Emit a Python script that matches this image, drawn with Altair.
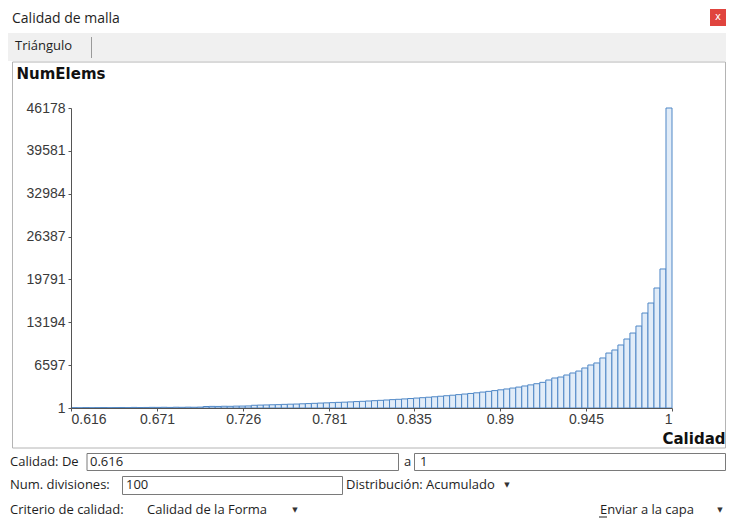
import altair as alt
import pandas as pd

# ---------------- data ----------------
q_min = 0.616
q_max = 1.0
n_div = 100

counts = [45, 30, 60, 40, 55, 70, 50, 65, 80, 60, 90, 75, 85, 100, 95, 110, 90, 120, 105, 130, 115, 140,
          230, 250, 240, 270, 260, 290, 300, 320,
          420, 450, 470, 500, 520, 560, 590, 610, 650, 680,
          720, 760, 790, 830, 870, 900, 940, 990, 1030, 1080,
          1130, 1180, 1230, 1290, 1340, 1400, 1460, 1530, 1590, 1660,
          1730, 1810, 1890, 1970, 2060, 2150, 2240, 2340, 2450, 2560,
          2680, 2800, 2930, 3070, 3220, 3390, 3560, 3740,
          3950, 4310, 4620, 4770, 5080, 5390, 5690, 6160, 6620, 6930,
          7700, 8460, 8930, 9700, 10620, 11540, 12620, 14620, 16160, 18470,
          21400, 46178]

x_ticks = [0.616, 0.671, 0.726, 0.781, 0.835, 0.89, 0.945, 1.0]
y_ticks = [1, 6597, 13194, 19791, 26387, 32984, 39581, 46178]

step = (q_max - q_min) / n_div
df = pd.DataFrame({
    "lo": [q_min + i * step for i in range(n_div)],
    "hi": [q_min + (i + 1) * step for i in range(n_div)],
    "n": counts,
})

# ---------------- layout (page pixels) ----------------
PLOT_X, PLOT_Y = 71, 108          # page position of plot origin
W, H = 601, 300
TOTAL_W, TOTAL_H = 718, 513
PAD_L, PAD_T = PLOT_X - 8, PLOT_Y - 8
PAD_R = TOTAL_W - PAD_L - W
PAD_B = TOTAL_H - PAD_T - H

UI_FONT = "Open Sans"
one = alt.Data(values=[{}])


def px(x):
    return x - PLOT_X


def py(y):
    return y - PLOT_Y


def txt(s, x, y, size=13, weight="normal", align="left", font=UI_FONT, color="#1e1e1e"):
    return alt.Chart(one).mark_text(
        text=s, align=align, baseline="middle", font=font, fontSize=size,
        fontWeight=weight, color=color
    ).encode(x=alt.value(px(x)), y=alt.value(py(y)))


def box(x1, y1, x2, y2, fill, stroke=None):
    kw = dict(fill=fill)
    if stroke:
        kw.update(stroke=stroke, strokeWidth=1)
    else:
        kw.update(strokeWidth=0)
    return alt.Chart(one).mark_rect(**kw).encode(
        x=alt.value(px(x1)), x2=alt.value(px(x2)),
        y=alt.value(py(y1)), y2=alt.value(py(y2)))


def vline(x, y1, y2, color="#9a9a9a"):
    return alt.Chart(one).mark_rule(color=color, strokeWidth=1).encode(
        x=alt.value(px(x)), y=alt.value(py(y1)), y2=alt.value(py(y2)))


def hline(x1, x2, y, color="#1e1e1e"):
    return alt.Chart(one).mark_rule(color=color, strokeWidth=1).encode(
        x=alt.value(px(x1)), x2=alt.value(px(x2)), y=alt.value(py(y)))


chrome_back = [
    box(8, 33, 726, 61, "#f0f0f0"),
    box(12.5, 62, 725.5, 448, "#ffffff", "#b4b4b4"),
    box(87, 453.5, 398.5, 470.5, "#ffffff", "#7a7a7a"),
    box(414.5, 453.5, 725.5, 470.5, "#ffffff", "#7a7a7a"),
    box(122.5, 476.5, 342.5, 494.5, "#ffffff", "#7a7a7a"),
    box(710, 9, 726, 26, "#e0443e"),
]

bars = alt.Chart(df).mark_rect(
    fill="#e1ecf8", stroke="#4f87c6", strokeWidth=1
).encode(
    x=alt.X("lo:Q", scale=alt.Scale(domain=[q_min, q_max], nice=False, zero=False),
            axis=alt.Axis(values=x_ticks, format=".3~f", title="Calidad",
                          titleX=px(725), titleY=30, titleAlign="right",
                          titleBaseline="middle", titleAnchor="end", zindex=1)),
    x2="hi:Q",
    y=alt.Y("n:Q", scale=alt.Scale(domain=[1, 46178], nice=False, zero=False),
            axis=alt.Axis(values=y_ticks, format="d", title="NumElems",
                          titleAngle=0, titleX=px(16), titleY=py(73),
                          titleAlign="left", titleBaseline="middle", zindex=1)),
    y2=alt.datum(1),
)

chrome_front = [
    txt("Calidad de malla", 12, 18.5, size=14),
    txt("x", 718, 16.5, size=10, align="center", color="#ffffff", font="DejaVu Sans"),
    txt("Triángulo", 15, 46),
    vline(91.5, 37, 58),
    txt("Calidad: De", 10, 462),
    txt("0.616", 90, 462),
    txt("a", 404, 462),
    txt("1", 420, 462),
    txt("Num. divisiones:", 10, 485),
    txt("100", 126, 485),
    txt("Distribución:", 346, 485),
    txt("Acumulado", 426, 485),
    txt("▼", 507, 485, size=7, align="center", font="DejaVu Sans", color="#333333"),
    txt("Criterio de calidad:", 10, 510),
    txt("Calidad de la Forma", 147, 510),
    txt("▼", 295, 510, size=7, align="center", font="DejaVu Sans", color="#333333"),
    txt("Enviar a la capa", 694, 510, align="right"),
    hline(599, 607, 517),
    txt("▼", 720, 510, size=7, align="center", font="DejaVu Sans", color="#333333"),
]

chart = alt.layer(*chrome_back, bars, *chrome_front).properties(
    width=W, height=H,
    autosize=alt.AutoSizeParams(type="none"),
    padding={"left": PAD_L, "top": PAD_T, "right": PAD_R, "bottom": PAD_B},
).configure_view(
    stroke=None
).configure_axis(
    grid=False,
    domainColor="#555555",
    tickColor="#555555",
    tickSize=3,
    labelFont="Liberation Sans",
    labelFontSize=14,
    labelColor="#3a3a3a",
    titleFont="DejaVu Sans",
    titleFontSize=15,
    titleFontWeight="bold",
    titleColor="#111111",
).configure_axisX(
    labelPadding=1,
).configure_axisY(
    labelPadding=3,
)

chart.save("out.html", embed_options={"renderer": "svg", "actions": False})
